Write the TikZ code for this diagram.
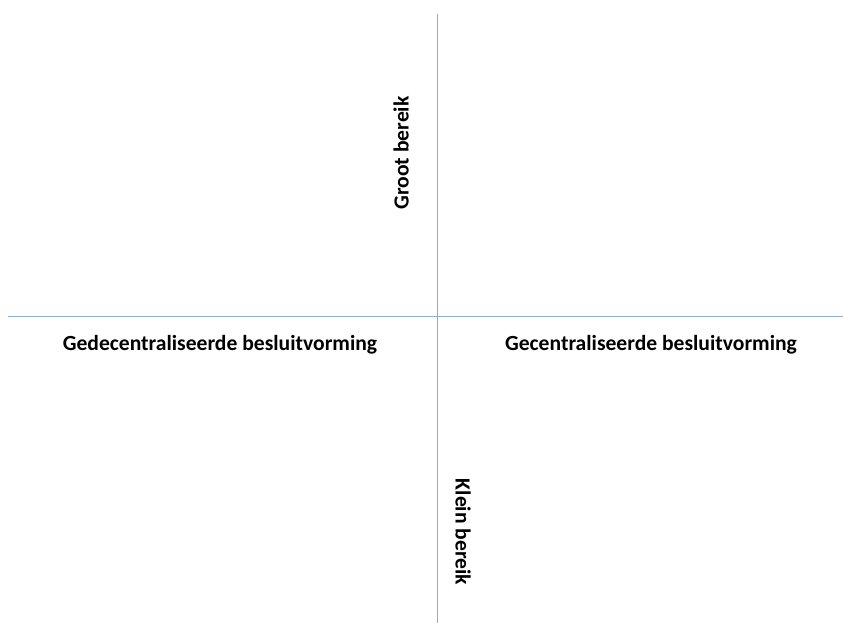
\documentclass[tikz,border=0pt]{standalone}
\usepackage{fontspec}
\setmainfont{Carlito}
\definecolor{axisblue}{RGB}{143,170,220}
\begin{document}
\begin{tikzpicture}[x=1pt,y=-1pt]
  \tikzset{axis/.style={draw=axisblue,line width=1pt},
    lbl/.style={font=\bfseries\fontsize{21.6}{25}\selectfont,inner sep=0pt}}
  \useasboundingbox (0,0) rectangle (843,623);
  \coordinate (top) at (437,14);
  \coordinate (bottom) at (437,623);
  \coordinate (west) at (8,316);
  \coordinate (east) at (843,316);
  \draw[axis] (top) -- (bottom);
  \draw[axis] (west) -- (east);
  \node[lbl] (decentraal) at (220,345) {Gedecentraliseerde besluitvorming};
  \node[lbl] (centraal) at (651,345) {Gecentraliseerde besluitvorming};
  \node[lbl,rotate=90] (groot) at (401,153) {Groot bereik};
  \node[lbl,rotate=-90] (klein) at (463,532) {Klein bereik};
\end{tikzpicture}
\end{document}
